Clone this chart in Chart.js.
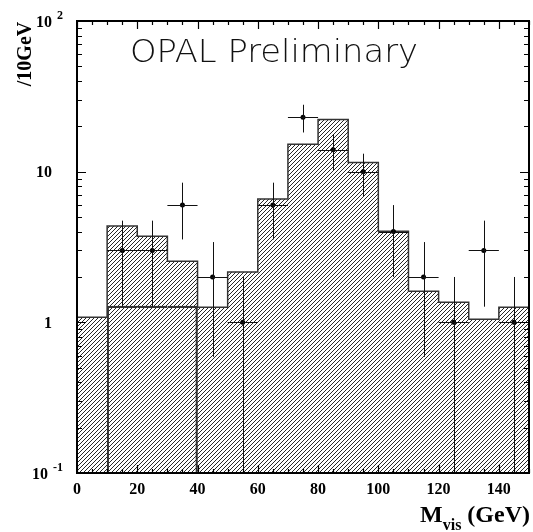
<!DOCTYPE html>
<html>
<head>
<meta charset="utf-8">
<script src="https://cdn.jsdelivr.net/npm/chart.js@4/dist/chart.umd.min.js"></script>
<style>
  html, body { margin: 0; padding: 0; background: #fff; }
  canvas { display: block; }
</style>
</head>
<body>
<canvas id="chart" width="533" height="532"></canvas>
<script>
// histogram bins (lower edges, GeV) and MC expectation per 10 GeV
const binLow = [0, 10, 20, 30, 40, 50, 60, 70, 80, 90, 100, 110, 120, 130, 140];
const binWidth = 10;
const mcTotal = [1.08, 4.36, 3.72, 2.54, 1.26, 2.16, 6.58, 15.2, 22.2, 11.5, 4.02, 1.61, 1.36, 1.05, 1.26];

// second (overlaid) component, only non-zero in 10-40 GeV
const compCentres = [15, 25, 35];
const compValues = [1.28, 1.28, 1.28];

// data points with their error bar ends
const dataX = [15, 25, 35, 45, 55, 65, 75, 85, 95, 105, 115, 125, 135, 145];
const dataY = [3, 3, 6, 2, 1, 6, 23, 14, 10, 4, 2, 1, 3, 1];
const errDown = [1.27, 1.27, 3.55, 0.59, 0, 3.55, 18.2, 10.26, 6.84, 2, 0.59, 0, 1.27, 0];
const errUp = [4.73, 4.73, 8.45, 3.41, 2, 8.45, 27.8, 17.74, 13.16, 6, 3.41, 2, 4.73, 2];

// axis ticks
const xTicks = [0, 20, 40, 60, 80, 100, 120, 140];
const yTicks = [0.1, 1, 10, 100];
const yTickLabels = [["10", "-1"], ["1", ""], ["10", ""], ["10", "2"]];

const SERIF = "'Liberation Serif', 'Times New Roman', serif";

function makeHatch() {
  const s = 4;
  const c = document.createElement("canvas");
  c.width = s;
  c.height = s;
  const g = c.getContext("2d");
  g.strokeStyle = "#000";
  g.lineWidth = 0.85;
  g.beginPath();
  g.moveTo(0, s); g.lineTo(s, 0);
  g.moveTo(-1, 1); g.lineTo(1, -1);
  g.moveTo(s - 1, s + 1); g.lineTo(s + 1, s - 1);
  g.stroke();
  return g.createPattern(c, "repeat");
}

const steps = binLow.map((x, i) => ({ x, y: mcTotal[i] }));
steps.push({ x: binLow[binLow.length - 1] + binWidth, y: mcTotal[mcTotal.length - 1] });

const snap = (v) => Math.round(v) + 0.5;

const errorBars = {
  id: "errorBars",
  afterDatasetsDraw(chart) {
    const { ctx, chartArea: a, scales: { x, y } } = chart;
    ctx.save();
    ctx.beginPath();
    ctx.rect(a.left, a.top, a.width, a.height);
    ctx.clip();
    ctx.strokeStyle = "#111";
    ctx.lineWidth = 1;
    ctx.beginPath();
    dataX.forEach((v, i) => {
      const px = snap(x.getPixelForValue(v));
      const py = snap(y.getPixelForValue(dataY[i]));
      const lo = errDown[i] > 0 ? y.getPixelForValue(errDown[i]) : a.bottom;
      ctx.moveTo(x.getPixelForValue(v - binWidth / 2), py);
      ctx.lineTo(x.getPixelForValue(v + binWidth / 2), py);
      ctx.moveTo(px, y.getPixelForValue(errUp[i]));
      ctx.lineTo(px, lo);
    });
    ctx.stroke();
    ctx.restore();
  },
};

const frame = {
  id: "frame",
  afterDraw(chart) {
    const { ctx, chartArea: a, scales: { x, y } } = chart;
    ctx.save();
    ctx.strokeStyle = "#000";
    ctx.lineWidth = 2;
    ctx.strokeRect(a.left, a.top, a.right - a.left, a.bottom - a.top);

    // x ticks, inward on bottom and top
    ctx.lineWidth = 1.2;
    ctx.beginPath();
    for (let v = 0; v <= 150; v += 5) {
      const px = snap(x.getPixelForValue(v));
      const len = xTicks.includes(v) ? 8 : 4;
      ctx.moveTo(px, a.bottom); ctx.lineTo(px, a.bottom - len);
      ctx.moveTo(px, a.top); ctx.lineTo(px, a.top + len);
    }
    // y ticks, inward on left and right
    for (let d = 0; d < yTicks.length; d++) {
      const base = yTicks[d];
      const py = snap(y.getPixelForValue(base));
      ctx.moveTo(a.left, py); ctx.lineTo(a.left + 9, py);
      ctx.moveTo(a.right, py); ctx.lineTo(a.right - 9, py);
      if (d === yTicks.length - 1) break;
      for (let k = 2; k <= 9; k++) {
        const pm = snap(y.getPixelForValue(base * k));
        ctx.moveTo(a.left, pm); ctx.lineTo(a.left + 5, pm);
        ctx.moveTo(a.right, pm); ctx.lineTo(a.right - 5, pm);
      }
    }
    ctx.stroke();

    // tick labels
    ctx.fillStyle = "#000";
    ctx.font = "bold 16px " + SERIF;
    ctx.textAlign = "center";
    ctx.textBaseline = "alphabetic";
    xTicks.forEach((v) => ctx.fillText(String(v), x.getPixelForValue(v), 494));

    yTicks.forEach((v, i) => {
      const [base, exp] = yTickLabels[i];
      const py = y.getPixelForValue(v);
      if (!exp) {
        ctx.font = "bold 16px " + SERIF;
        ctx.textAlign = "right";
        ctx.fillText(base, 52, py + 5.5);
      } else {
        ctx.font = "bold 12px " + SERIF;
        const ew = ctx.measureText(exp).width;
        ctx.textAlign = "left";
        ctx.fillText(exp, 63 - ew, py - 2);
        ctx.font = "bold 16px " + SERIF;
        ctx.textAlign = "right";
        ctx.fillText(base, 63 - ew - 5, py + 5.5);
      }
    });

    // x title: M_vis (GeV)
    ctx.textAlign = "left";
    ctx.font = "bold 24px " + SERIF;
    const wM = ctx.measureText("M").width;
    const wG = ctx.measureText(" (GeV)").width;
    ctx.font = "bold 16px " + SERIF;
    const wS = ctx.measureText("vis").width;
    const tx = 530 - (wM + wS + wG);
    ctx.font = "bold 24px " + SERIF;
    ctx.fillText("M", tx, 522);
    ctx.font = "bold 16px " + SERIF;
    ctx.fillText("vis", tx + wM, 530);
    ctx.font = "bold 24px " + SERIF;
    ctx.fillText(" (GeV)", tx + wM + wS, 522);

    // y title
    ctx.save();
    ctx.translate(31, 54);
    ctx.rotate(-Math.PI / 2);
    ctx.textAlign = "center";
    ctx.font = "bold 20px " + SERIF;
    ctx.fillText("/10GeV", 0, 0);
    ctx.restore();

    // OPAL label, thin face stretched to the reference width
    ctx.font = "200 32px 'DejaVu Sans', sans-serif";
    const ow = ctx.measureText("OPAL Preliminary").width;
    ctx.save();
    ctx.translate(130, 62);
    ctx.scale(288 / ow, 1);
    ctx.fillStyle = "#111";
    ctx.textAlign = "left";
    ctx.fillText("OPAL Preliminary", 0, 0);
    ctx.restore();
    ctx.restore();
  },
};

new Chart(document.getElementById("chart"), {
  type: "line",
  data: {
    datasets: [
      {
        type: "scatter",
        data: dataX.map((x, i) => ({ x, y: dataY[i] })),
        pointRadius: 2.5,
        pointBackgroundColor: "#000",
        pointBorderWidth: 0,
        showLine: false,
        order: 0,
      },
      {
        type: "bar",
        data: compCentres.map((x, i) => ({ x, y: compValues[i] })),
        backgroundColor: "rgba(0,0,0,0)",
        borderColor: "#333",
        borderWidth: (c) => ({
          top: 1.5,
          left: c.dataIndex === 0 ? 1.5 : 0,
          right: c.dataIndex === compCentres.length - 1 ? 1.5 : 0,
          bottom: 0,
        }),
        borderSkipped: false,
        barPercentage: 1,
        categoryPercentage: 1,
        grouped: false,
        order: 1,
      },
      {
        type: "line",
        data: steps,
        stepped: true,
        fill: "start",
        backgroundColor: makeHatch(),
        borderColor: "#333",
        borderWidth: 1.5,
        pointRadius: 0,
        order: 2,
      },
    ],
  },
  options: {
    responsive: false,
    animation: false,
    events: [],
    layout: { padding: { left: 77, right: 3, top: 21, bottom: 59 } },
    scales: {
      x: { type: "linear", min: 0, max: 150, offset: false, display: false, ticks: { stepSize: 10 } },
      y: { type: "logarithmic", min: 0.1, max: 100, display: false },
    },
    plugins: { legend: { display: false }, tooltip: { enabled: false } },
  },
  plugins: [errorBars, frame],
});
</script>
</body>
</html>
